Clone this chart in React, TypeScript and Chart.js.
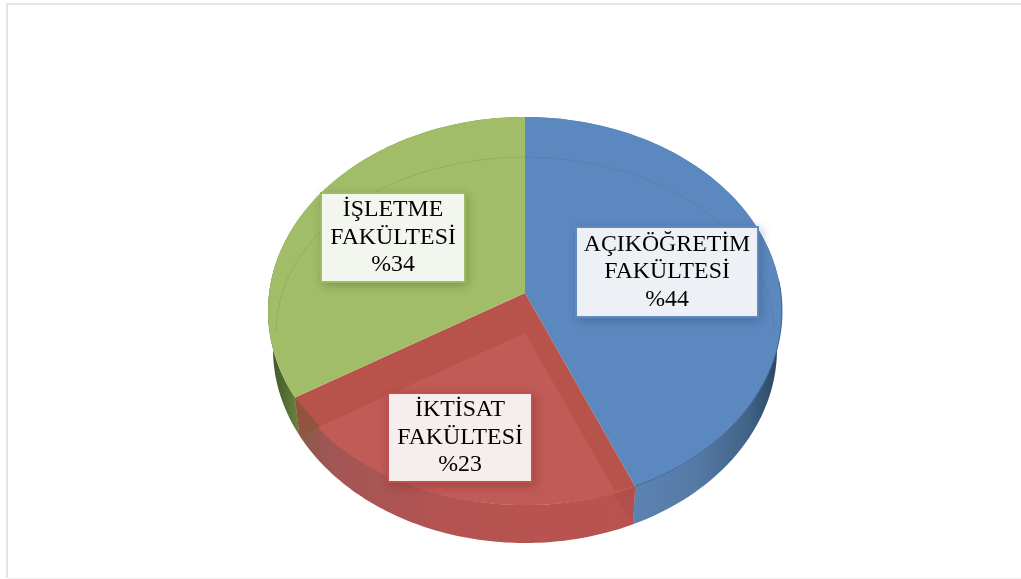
import React, { useEffect, useRef } from "react";
import { Chart, registerables } from "chart.js";

Chart.register(...registerables);

// Faculties in clockwise order from twelve o'clock.
const faculties = ["AÇIKÖĞRETİM FAKÜLTESİ", "İKTİSAT FAKÜLTESİ", "İŞLETME FAKÜLTESİ"];
const shares = [44, 23, 34];
const faceColors = ["#5B88BF", "#B8534B", "#A2BD68"];
const labelBorders = ["#5F8BC0", "#C0504D", "#9DBB5F"];
const labelFills = ["#EDF1F6", "#F6EDED", "#F3F6EE"];
const labelShadows = ["rgba(40,70,110,0.4)", "rgba(110,30,30,0.4)", "rgba(70,90,40,0.4)"];

// Tilted-disc geometry: rim, lower rim of the side wall, and the inner rim line.
const RIM = { cx: 525, cy: 311, rx: 257, ry: 194 };
const WALL = { cx: 525, cy: 349, rx: 252, ry: 194 };
const INNER = { cx: 525, cy: 331, rx: 249, ry: 174 };
const TILT = -18 / 194; // moves the disc centre towards the far edge

// Label boxes, one per slice: left, top, right, bottom.
const LABEL_BOXES = [
  [576, 227, 758, 317],
  [388, 393, 532, 482],
  [321, 193, 465, 282],
];

type Ellipse = { cx: number; cy: number; rx: number; ry: number };

// Projects an angle on the flat pie onto a rim ellipse in perspective.
function project(e: Ellipse, angle: number): [number, number] {
  const x = Math.cos(angle);
  const y = Math.sin(angle);
  const d = 1 + TILT * y;
  return [e.cx + (e.rx * x * Math.sqrt(1 - TILT * TILT)) / d, e.cy + (e.ry * (y + TILT)) / d];
}

function traceArc(ctx: CanvasRenderingContext2D, e: Ellipse, from: number, to: number, move = false) {
  const steps = 90;
  for (let i = 0; i <= steps; i++) {
    const [x, y] = project(e, from + ((to - from) * i) / steps);
    if (i === 0 && move) ctx.moveTo(x, y);
    else ctx.lineTo(x, y);
  }
}

function traceWedge(ctx: CanvasRenderingContext2D, from: number, to: number, dy = 0) {
  const apexY = RIM.cy + TILT * RIM.ry;
  ctx.beginPath();
  ctx.moveTo(RIM.cx, apexY + dy);
  if (dy === 0) {
    traceArc(ctx, RIM, from, to);
  } else {
    const [x1, y1] = project(RIM, from);
    const [x2, y2] = project(RIM, to);
    ctx.lineTo(RIM.cx + (x1 - RIM.cx) * 1.5, apexY + dy + (y1 - apexY) * 1.5);
    ctx.lineTo(RIM.cx + (x2 - RIM.cx) * 1.5, apexY + dy + (y2 - apexY) * 1.5);
  }
  ctx.closePath();
}

function wallGradient(ctx: CanvasRenderingContext2D, index: number) {
  if (index === 0) {
    const g = ctx.createLinearGradient(628, 0, 780, 0);
    g.addColorStop(0, "#5C84B4");
    g.addColorStop(0.45, "#557AA5");
    g.addColorStop(0.8, "#3F6286");
    g.addColorStop(1, "#2B445F");
    return g;
  }
  if (index === 1) {
    const g = ctx.createLinearGradient(300, 0, 630, 0);
    g.addColorStop(0, "#8A5A48");
    g.addColorStop(0.1, "#A25655");
    g.addColorStop(0.45, "#B45352");
    g.addColorStop(1, "#BA5350");
    return g;
  }
  const g = ctx.createLinearGradient(270, 0, 302, 0);
  g.addColorStop(0, "#3F5327");
  g.addColorStop(1, "#6D8A40");
  return g;
}

const tiltedPie = {
  id: "tiltedPie",
  afterDatasetsDraw(chart: any) {
    const { ctx } = chart;
    const arcs = chart.getDatasetMeta(0).data as any[];
    const spans = arcs.map((a) => [a.startAngle, a.endAngle]);
    ctx.save();

    // Page frame
    ctx.fillStyle = "#E4E4E4";
    ctx.fillRect(6, 3, 1015, 2);
    ctx.fillRect(6, 3, 2, 575);
    ctx.fillStyle = "#F0F0F0";
    ctx.fillRect(8, 578, 1013, 1);

    // Side wall
    spans.forEach(([from, to], i) => {
      ctx.beginPath();
      traceArc(ctx, RIM, from, to, true);
      traceArc(ctx, WALL, to, from);
      ctx.closePath();
      ctx.fillStyle = wallGradient(ctx, i);
      ctx.fill();
    });

    // Top faces
    spans.forEach(([from, to], i) => {
      traceWedge(ctx, from, to);
      ctx.fillStyle = faceColors[i];
      ctx.fill();
    });

    // Faint far half of the inner rim, across the blue and green faces
    ctx.beginPath();
    ctx.ellipse(INNER.cx, INNER.cy, INNER.rx, INNER.ry, 0, Math.PI, 2 * Math.PI);
    ctx.strokeStyle = "rgba(70,90,70,0.16)";
    ctx.lineWidth = 1;
    ctx.stroke();

    // Near edge of the blue face against its wall
    ctx.beginPath();
    traceArc(ctx, RIM, spans[0][0] + Math.PI * 0.48, spans[0][1], true);
    ctx.strokeStyle = "rgba(50,90,140,0.8)";
    ctx.stroke();

    // Sunken floor of the red slice, with its inner walls around it
    const [redFrom, redTo] = spans[1];
    ctx.save();
    ctx.beginPath();
    ctx.ellipse(INNER.cx, INNER.cy, INNER.rx, INNER.ry, 0, 0, 2 * Math.PI);
    ctx.clip();
    traceWedge(ctx, redFrom, redTo, 40);
    ctx.fillStyle = "#C05B57";
    ctx.fill();
    ctx.restore();

    // Near-right corner where the red slice meets the blue wall
    const [bx1, by1] = project(RIM, redFrom);
    const [bx2, by2] = project(WALL, redFrom);
    ctx.beginPath();
    ctx.moveTo(bx1, by1);
    ctx.lineTo(bx2, by2);
    ctx.lineTo(613, 494);
    ctx.closePath();
    ctx.fillStyle = "#B14F4C";
    ctx.fill();

    // Near-left corner where the red slice overlaps the green wall
    const [cx1, cy1] = project(RIM, redTo);
    const [cx2, cy2] = project(WALL, redTo);
    ctx.beginPath();
    ctx.moveTo(cx1, cy1);
    ctx.lineTo(cx2, cy2);
    ctx.lineTo(320, 427);
    ctx.closePath();
    ctx.fillStyle = "#92543F";
    ctx.fill();

    // Label boxes
    faculties.forEach((name, i) => {
      const [l, t, r, b] = LABEL_BOXES[i];
      ctx.save();
      ctx.shadowColor = labelShadows[i];
      ctx.shadowBlur = 10;
      ctx.shadowOffsetX = 2;
      ctx.shadowOffsetY = 3;
      ctx.fillStyle = labelBorders[i];
      ctx.fillRect(l - 1, t - 1, r - l + 2, b - t + 2);
      ctx.restore();
      ctx.fillStyle = labelFills[i];
      ctx.fillRect(l + 1, t + 1, r - l - 2, b - t - 2);

      const lines = [...name.split(" "), "%" + shares[i]];
      ctx.fillStyle = "#000000";
      ctx.font = '23.8px "Liberation Serif"';
      ctx.textAlign = "center";
      ctx.textBaseline = "middle";
      lines.forEach((line, k) => {
        ctx.fillText(line, (l + r) / 2, (t + b) / 2 + (k - 1) * 27.5);
      });
    });

    ctx.restore();
  },
};

export default function App() {
  const ref = useRef<HTMLCanvasElement>(null);
  useEffect(() => {
    document.body.style.margin = "0";
    document.body.style.background = "#FFFFFF";
    const chart = new Chart(ref.current!, {
      type: "pie",
      data: {
        labels: faculties,
        datasets: [{ data: shares, backgroundColor: "transparent", borderWidth: 0 }],
      },
      options: {
        animation: false,
        responsive: false,
        plugins: { legend: { display: false }, tooltip: { enabled: false } },
      },
      plugins: [tiltedPie],
    });
    return () => chart.destroy();
  }, []);
  return (
    <canvas ref={ref} width={1021} height={579} style={{ display: "block", width: 1021, height: 579 }} />
  );
}
